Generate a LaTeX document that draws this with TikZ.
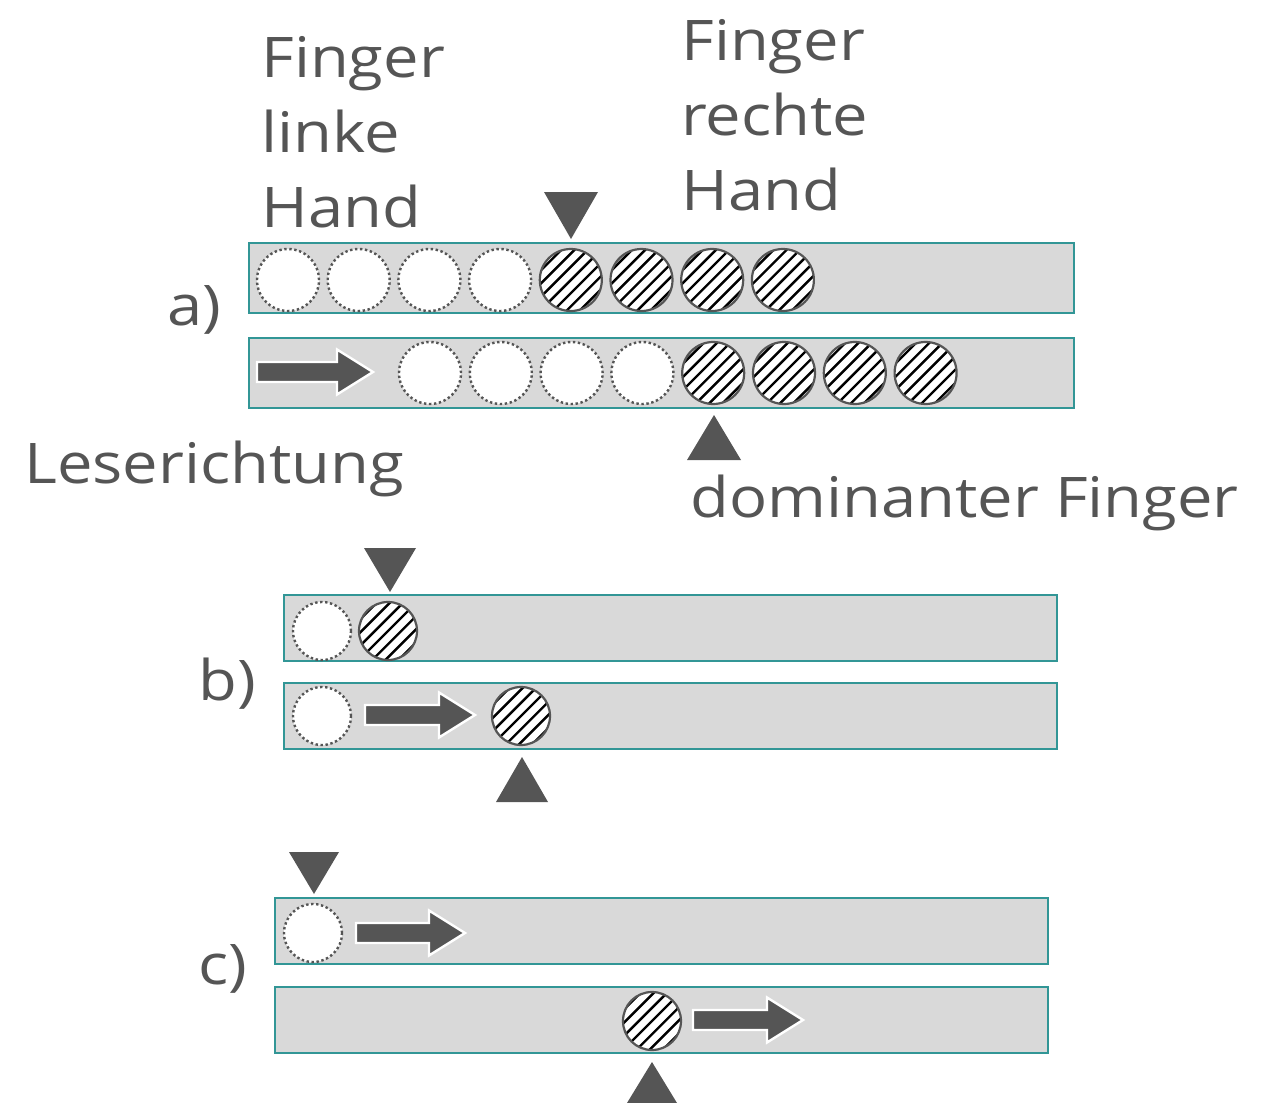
\documentclass[tikz,border=0pt]{standalone}
\usepackage{fontspec}
\setmainfont[FakeStretch=1.13]{Open Sans}
\usepackage{tikz}

\definecolor{dunkel}{RGB}{85,85,85}
\definecolor{zeilengrau}{RGB}{217,217,217}
\definecolor{petrol}{RGB}{50,150,150}

\tikzset{
  zeile/.style={fill=zeilengrau, draw=petrol, line width=0.8pt},
  leer/.style={circle, minimum size=#1, inner sep=0pt, fill=white, draw=dunkel,
    line width=1.2pt, dash pattern=on 1.2pt off 1.3pt},
  leer/.default=31pt,
  voll/.style={circle, minimum size=#1, inner sep=0pt, draw=dunkel, line width=1.1pt,
    fill=white,
    path picture={
      \foreach \k in {-3,...,3}
        \draw[black, line width=1.2pt]
          ([xshift=\k*6.6pt]path picture bounding box.center) ++(-20pt,-20pt) -- ++(40pt,40pt);
    }},
  voll/.default=31pt,
  schrift/.style={inner sep=0pt, text=dunkel, align=left,
    font=\fontsize{28}{37.5}\selectfont},
  pfeilstil/.style={fill=dunkel, draw=white, line width=1.2pt, line join=miter},
  dreieck/.style={fill=dunkel}
}

% Pfeil: linker Rand, Mitte, Laenge
\newcommand{\lesepfeil}[3]{
  \filldraw[pfeilstil] (#1,#2-10) -- (#1+#3-36,#2-10) -- (#1+#3-36,#2-22.5)
    -- (#1+#3,#2) -- (#1+#3-36,#2+22.5) -- (#1+#3-36,#2+10) -- (#1,#2+10) -- cycle;
}
% Dreiecke: Mitte, Grundlinie, halbe Breite, Hoehe
\newcommand{\dreieckab}[4]{
  \fill[dreieck] (#1-#3,#2) -- (#1+#3,#2) -- (#1,#2+#4) -- cycle;
}
\newcommand{\dreieckauf}[4]{
  \fill[dreieck] (#1-#3,#2) -- (#1+#3,#2) -- (#1,#2-#4) -- cycle;
}

\begin{document}
\begin{tikzpicture}[x=0.5pt, y=-0.5pt]
    \useasboundingbox (0,0) rectangle (1266,1103);

    % a)
    \draw[zeile] (249,243) rectangle (1074,313);
    \draw[zeile] (249,338) rectangle (1074,408);
    \foreach \i in {0,...,3} {
        \node[leer] (aoben\i) at (288+70.7*\i,280) {};
        \node[leer] (aunten\i) at (430+70.8*\i,373) {};
    }
    \foreach \i in {4,...,7} {
        \node[voll] (aoben\i) at (288+70.7*\i,280) {};
        \node[voll] (aunten\i) at (430+70.8*\i,373) {};
    }
    \lesepfeil{257}{372}{116}
    \dreieckab{571}{192}{27}{47}
    \dreieckauf{714}{460}{27}{45}

    \node[schrift, anchor=base west] (links) at (261,227) {Finger\\linke\\Hand};
    \node[schrift, anchor=base west] (rechts) at (681,210) {Finger\\rechte\\Hand};
    \node[schrift, anchor=base west] (lese) at (24,483) {Leserichtung};
    \node[schrift, anchor=base west] (dominant) at (690,517) {dominanter Finger};
    \node[schrift, anchor=base west] (la) at (167,325) {a)};

    % b)
    \draw[zeile] (284,595) rectangle (1057,661);
    \draw[zeile] (284,683) rectangle (1057,749);
    \node[leer=29pt] (boben1) at (322,631) {};
    \node[voll=29pt] (boben2) at (388,631) {};
    \node[leer=29pt] (bunten1) at (322,716) {};
    \node[voll=29pt] (bunten2) at (521,716) {};
    \lesepfeil{365}{715}{110}
    \dreieckab{390}{548}{26}{44}
    \dreieckauf{522}{802}{26}{45}
    \node[schrift, anchor=base west] (lb) at (198,700) {b)};

    % c)
    \draw[zeile] (275,898) rectangle (1048,964);
    \draw[zeile] (275,987) rectangle (1048,1053);
    \node[leer=29pt] (coben1) at (313,933) {};
    \node[voll=29pt] (cunten1) at (652,1021) {};
    \lesepfeil{356}{933}{109}
    \lesepfeil{693}{1020}{110}
    \dreieckab{314}{852}{25}{42}
    \dreieckauf{652}{1103}{25}{41}
    \node[schrift, anchor=base west] (lc) at (198,984) {c)};
\end{tikzpicture}
\end{document}
